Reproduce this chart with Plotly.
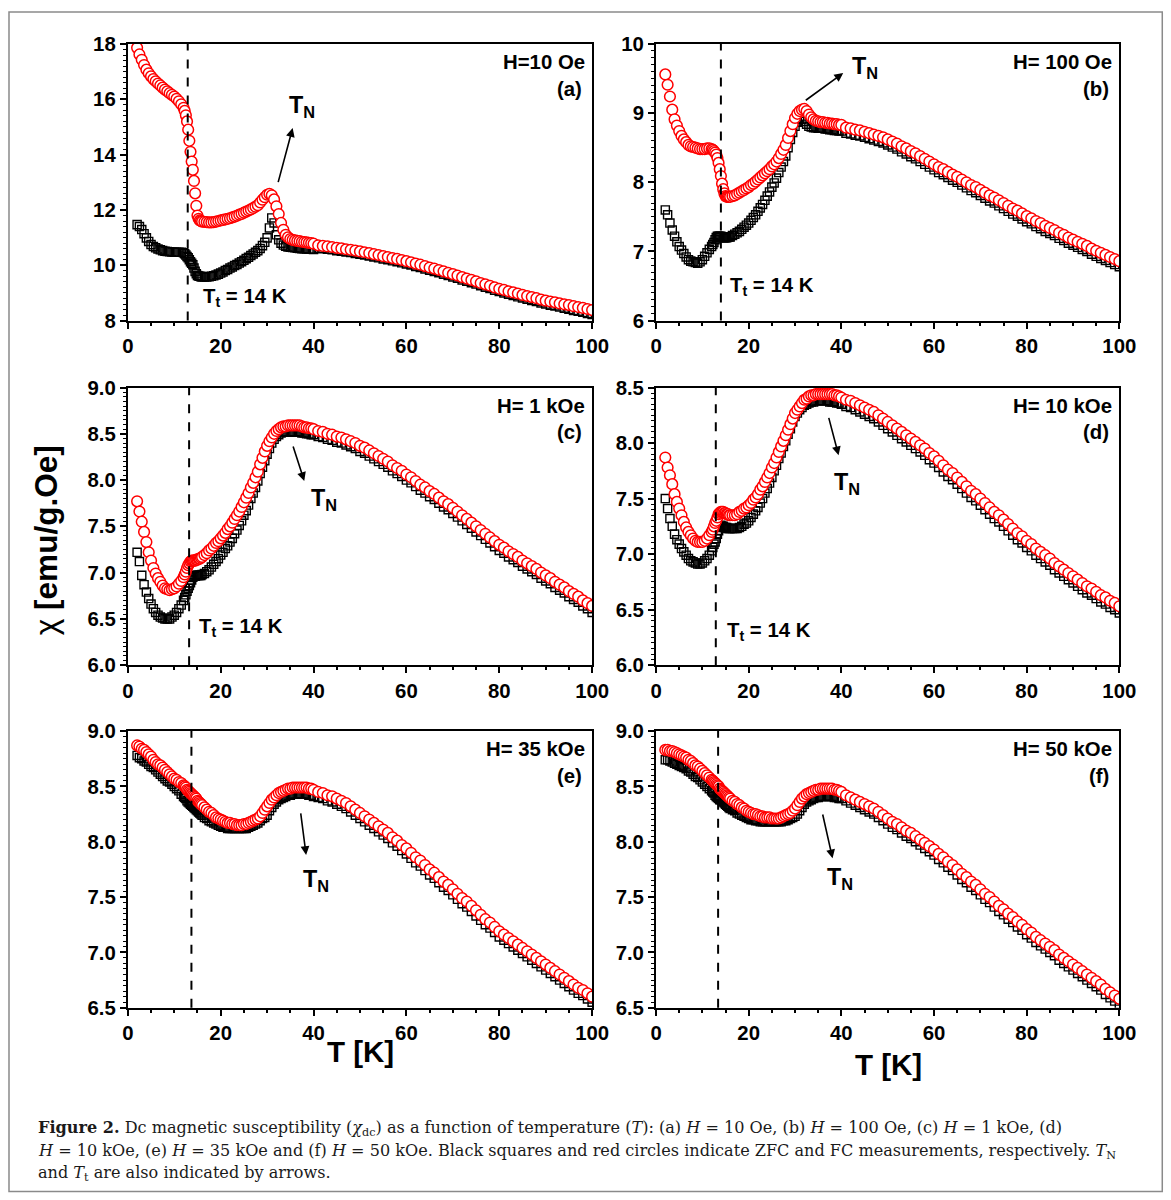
import plotly.graph_objects as go

# ---------------- data ----------------
T_LO = [2.0, 2.5, 3.0, 3.5, 4.0, 4.5, 5.0, 5.5, 6.0, 6.5, 7.0, 7.5, 8.0, 8.5, 9.0, 9.5, 10.0, 10.5, 11.0, 11.5,
        12.0, 12.25, 12.5, 12.75, 13.0, 13.25, 13.5, 13.75, 14.0, 14.25, 14.5, 14.75, 15.0, 15.25, 15.5, 15.75, 16.0,
        16.5, 17.0, 17.5, 18.0, 18.5, 19.0, 19.5, 20.0, 20.5, 21.0, 21.5, 22.0, 22.5, 23.0, 23.5, 24.0, 24.5, 25.0, 25.5, 26.0, 26.5, 27.0, 27.5, 28.0,
        28.5, 29.0, 29.5, 30.0, 30.5, 31.0, 31.5, 32.0, 32.5, 33.0, 33.5, 34.0, 34.5, 35.0, 35.5, 36.0, 36.5, 37.0, 37.5, 38.0, 38.5, 39.0, 39.5, 40.0]
T_HI = [41, 42, 43, 44, 45, 46, 47, 48, 49, 50, 51, 52, 53, 54, 55, 56, 57, 58, 59, 60,
        61, 62, 63, 64, 65, 66, 67, 68, 69, 70, 71, 72, 73, 74, 75, 76, 77, 78, 79, 80,
        81, 82, 83, 84, 85, 86, 87, 88, 89, 90, 91, 92, 93, 94, 95, 96, 97, 98, 99, 100]

# (a) H = 10 Oe
fc_lo_a = [17.86, 17.62, 17.43, 17.24, 17.07, 16.94, 16.83, 16.73, 16.65, 16.57, 16.50, 16.42, 16.35, 16.29, 16.22, 16.16, 16.10, 16.02, 15.93, 15.82,
           15.69, 15.58, 15.42, 15.20, 14.90, 14.50, 14.10, 13.75, 13.45, 13.05, 12.60, 12.15, 11.80, 11.68, 11.62, 11.60, 11.58,
           11.57, 11.56, 11.55, 11.55, 11.56, 11.58, 11.60, 11.62, 11.64, 11.66, 11.68, 11.70, 11.73, 11.76, 11.79, 11.83, 11.86, 11.90, 11.94, 11.98, 12.02, 12.07, 12.12, 12.17,
           12.27, 12.37, 12.46, 12.55, 12.58, 12.53, 12.38, 12.13, 11.85, 11.53, 11.28, 11.10, 11.01, 10.95, 10.92, 10.90, 10.88, 10.87, 10.85, 10.84, 10.83, 10.81, 10.80, 10.78]
fc_hi_a = [10.72, 10.70, 10.68, 10.66, 10.63, 10.61, 10.58, 10.56, 10.53, 10.50,
           10.47, 10.44, 10.40, 10.37, 10.33, 10.30, 10.26, 10.23, 10.19, 10.15,
           10.11, 10.06, 10.02, 9.97, 9.92, 9.88, 9.83, 9.78, 9.73, 9.68,
           9.63, 9.57, 9.52, 9.47, 9.42, 9.36, 9.31, 9.26, 9.20, 9.15,
           9.11, 9.06, 9.02, 8.98, 8.93, 8.89, 8.85, 8.81, 8.76, 8.72,
           8.69, 8.66, 8.62, 8.59, 8.56, 8.52, 8.49, 8.46, 8.42, 8.38]
zfc_lo_a = [11.47, 11.40, 11.29, 11.14, 10.99, 10.86, 10.75, 10.68, 10.63, 10.59, 10.56, 10.53, 10.51, 10.50, 10.49, 10.48, 10.47, 10.47, 10.47, 10.47,
            10.45, 10.42, 10.37, 10.32, 10.27, 10.20, 10.13, 10.07, 10.02, 9.90, 9.78, 9.69, 9.63, 9.61, 9.60, 9.59, 9.58,
            9.58, 9.58, 9.59, 9.60, 9.62, 9.65, 9.68, 9.72, 9.76, 9.81, 9.85, 9.90, 9.94, 9.99, 10.03, 10.08, 10.13, 10.18, 10.24, 10.29, 10.35, 10.41, 10.47, 10.53,
            10.61, 10.71, 10.83, 10.99, 11.35, 11.71, 11.53, 11.10, 10.92, 10.80, 10.73, 10.69, 10.66, 10.65, 10.64, 10.63, 10.62, 10.61, 10.60, 10.60, 10.59, 10.58, 10.58, 10.57]
zfc_hi_a = [10.62, 10.60, 10.58, 10.56, 10.53, 10.51, 10.48, 10.46, 10.43, 10.40,
            10.37, 10.34, 10.30, 10.27, 10.23, 10.20, 10.16, 10.13, 10.09, 10.05,
            10.01, 9.96, 9.92, 9.87, 9.82, 9.78, 9.73, 9.68, 9.63, 9.58,
            9.53, 9.47, 9.42, 9.37, 9.32, 9.26, 9.21, 9.16, 9.10, 9.05,
            9.00, 8.95, 8.91, 8.86, 8.82, 8.77, 8.73, 8.69, 8.64, 8.60,
            8.56, 8.53, 8.49, 8.45, 8.41, 8.37, 8.34, 8.30, 8.26, 8.22]

# (b) H = 100 Oe
fc_lo_b = [9.56, 9.41, 9.24, 9.05, 8.91, 8.82, 8.74, 8.67, 8.62, 8.58, 8.54, 8.52, 8.51, 8.50, 8.49, 8.48, 8.48, 8.48, 8.49, 8.49,
           8.48, 8.47, 8.45, 8.43, 8.40, 8.35, 8.28, 8.19, 8.09, 7.98, 7.90, 7.84, 7.80, 7.79, 7.79, 7.79, 7.79,
           7.80, 7.81, 7.83, 7.85, 7.87, 7.89, 7.91, 7.93, 7.96, 7.98, 8.01, 8.04, 8.07, 8.10, 8.13, 8.16, 8.19, 8.23, 8.26, 8.30, 8.35, 8.41, 8.47, 8.54,
           8.64, 8.74, 8.84, 8.93, 8.99, 9.03, 9.05, 9.06, 9.03, 8.98, 8.94, 8.91, 8.89, 8.88, 8.87, 8.87, 8.86, 8.86, 8.85, 8.85, 8.84, 8.84, 8.83, 8.83]
fc_hi_b = [8.79, 8.78, 8.76, 8.75, 8.73, 8.71, 8.69, 8.67, 8.65, 8.62,
           8.59, 8.56, 8.52, 8.49, 8.45, 8.42, 8.38, 8.34, 8.30, 8.26,
           8.22, 8.19, 8.15, 8.11, 8.08, 8.04, 8.00, 7.96, 7.93, 7.89,
           7.85, 7.81, 7.78, 7.74, 7.70, 7.66, 7.62, 7.59, 7.55, 7.51,
           7.48, 7.44, 7.41, 7.37, 7.34, 7.31, 7.27, 7.24, 7.20, 7.17,
           7.14, 7.11, 7.08, 7.04, 7.01, 6.98, 6.95, 6.92, 6.89, 6.86]
zfc_lo_b = [7.60, 7.53, 7.41, 7.31, 7.22, 7.14, 7.07, 7.02, 6.97, 6.92, 6.88, 6.86, 6.85, 6.84, 6.83, 6.85, 6.88, 6.93, 6.98, 7.03,
            7.07, 7.10, 7.13, 7.17, 7.20, 7.22, 7.22, 7.22, 7.22, 7.21, 7.20, 7.20, 7.20, 7.20, 7.21, 7.21, 7.21,
            7.23, 7.25, 7.27, 7.29, 7.32, 7.35, 7.38, 7.41, 7.45, 7.49, 7.53, 7.58, 7.63, 7.68, 7.74, 7.80, 7.86, 7.93, 7.99, 8.06, 8.14, 8.22, 8.30, 8.38,
            8.50, 8.62, 8.72, 8.81, 8.87, 8.92, 8.91, 8.88, 8.84, 8.81, 8.80, 8.79, 8.79, 8.78, 8.78, 8.78, 8.77, 8.77, 8.76, 8.76, 8.75, 8.75, 8.74, 8.74]
zfc_hi_b = [8.71, 8.70, 8.68, 8.67, 8.65, 8.63, 8.61, 8.59, 8.57, 8.54,
            8.51, 8.48, 8.44, 8.41, 8.37, 8.34, 8.30, 8.26, 8.22, 8.18,
            8.14, 8.11, 8.07, 8.03, 8.00, 7.96, 7.92, 7.88, 7.85, 7.81,
            7.77, 7.73, 7.70, 7.66, 7.62, 7.58, 7.54, 7.51, 7.47, 7.43,
            7.40, 7.36, 7.33, 7.29, 7.26, 7.23, 7.19, 7.16, 7.12, 7.09,
            7.06, 7.03, 7.00, 6.96, 6.93, 6.90, 6.87, 6.84, 6.81, 6.78]

# (c) H = 1 kOe
fc_lo_c = [7.77, 7.66, 7.55, 7.44, 7.33, 7.22, 7.13, 7.05, 6.99, 6.94, 6.90, 6.86, 6.83, 6.82, 6.81, 6.82, 6.83, 6.85, 6.88, 6.91,
           6.95, 6.98, 7.01, 7.05, 7.08, 7.10, 7.12, 7.13, 7.13, 7.13, 7.13, 7.14, 7.14, 7.15, 7.15, 7.16, 7.17,
           7.19, 7.21, 7.24, 7.26, 7.29, 7.32, 7.34, 7.37, 7.40, 7.43, 7.47, 7.50, 7.54, 7.58, 7.62, 7.66, 7.71, 7.76, 7.81, 7.86, 7.92, 7.97, 8.03, 8.09,
           8.17, 8.24, 8.31, 8.37, 8.42, 8.46, 8.50, 8.53, 8.55, 8.57, 8.58, 8.58, 8.59, 8.59, 8.59, 8.59, 8.59, 8.59, 8.58, 8.57, 8.57, 8.56, 8.56, 8.55]
fc_hi_c = [8.53, 8.52, 8.50, 8.49, 8.47, 8.46, 8.44, 8.42, 8.40, 8.37,
           8.35, 8.32, 8.29, 8.26, 8.23, 8.20, 8.16, 8.13, 8.10, 8.06,
           8.03, 7.99, 7.95, 7.92, 7.88, 7.85, 7.81, 7.77, 7.74, 7.70,
           7.66, 7.62, 7.58, 7.54, 7.50, 7.46, 7.42, 7.38, 7.34, 7.30,
           7.27, 7.23, 7.20, 7.17, 7.13, 7.10, 7.07, 7.04, 7.00, 6.97,
           6.94, 6.90, 6.87, 6.84, 6.80, 6.77, 6.74, 6.70, 6.67, 6.64]
zfc_lo_c = [7.22, 7.12, 6.97, 6.87, 6.79, 6.72, 6.66, 6.61, 6.57, 6.54, 6.52, 6.51, 6.50, 6.50, 6.50, 6.52, 6.54, 6.57, 6.61, 6.65,
            6.70, 6.73, 6.76, 6.80, 6.83, 6.86, 6.89, 6.92, 6.95, 6.96, 6.96, 6.97, 6.97, 6.97, 6.97, 6.97, 6.98,
            6.99, 7.01, 7.03, 7.06, 7.09, 7.12, 7.15, 7.19, 7.22, 7.26, 7.29, 7.33, 7.37, 7.42, 7.46, 7.51, 7.56, 7.62, 7.67, 7.73, 7.80, 7.86, 7.92, 7.99,
            8.07, 8.14, 8.21, 8.28, 8.34, 8.40, 8.44, 8.47, 8.49, 8.51, 8.52, 8.52, 8.52, 8.52, 8.52, 8.52, 8.52, 8.52, 8.51, 8.51, 8.50, 8.50, 8.49, 8.49]
zfc_hi_c = [8.47, 8.46, 8.44, 8.43, 8.41, 8.40, 8.38, 8.36, 8.34, 8.31,
            8.29, 8.26, 8.23, 8.20, 8.17, 8.14, 8.10, 8.07, 8.04, 8.00,
            7.97, 7.93, 7.89, 7.86, 7.82, 7.79, 7.75, 7.71, 7.68, 7.64,
            7.60, 7.56, 7.52, 7.48, 7.44, 7.40, 7.36, 7.32, 7.28, 7.24,
            7.21, 7.17, 7.14, 7.11, 7.07, 7.04, 7.01, 6.98, 6.94, 6.91,
            6.88, 6.84, 6.81, 6.78, 6.74, 6.71, 6.68, 6.64, 6.61, 6.57]

# (d) H = 10 kOe
fc_lo_d = [7.87, 7.78, 7.71, 7.63, 7.54, 7.47, 7.41, 7.35, 7.29, 7.24, 7.20, 7.17, 7.14, 7.12, 7.11, 7.11, 7.11, 7.12, 7.14, 7.17,
           7.20, 7.22, 7.25, 7.28, 7.30, 7.33, 7.36, 7.37, 7.38, 7.38, 7.38, 7.37, 7.37, 7.36, 7.36, 7.35, 7.35,
           7.35, 7.35, 7.36, 7.38, 7.39, 7.41, 7.42, 7.44, 7.46, 7.49, 7.51, 7.54, 7.58, 7.61, 7.65, 7.69, 7.73, 7.78, 7.82, 7.87, 7.92, 7.97, 8.02, 8.07,
           8.12, 8.17, 8.22, 8.27, 8.30, 8.33, 8.36, 8.39, 8.40, 8.42, 8.43, 8.43, 8.44, 8.44, 8.44, 8.44, 8.44, 8.44, 8.44, 8.44, 8.43, 8.43, 8.42, 8.41]
fc_hi_d = [8.39, 8.38, 8.36, 8.34, 8.32, 8.30, 8.28, 8.25, 8.22, 8.19,
           8.16, 8.13, 8.10, 8.07, 8.04, 8.01, 7.98, 7.95, 7.91, 7.88,
           7.84, 7.80, 7.76, 7.73, 7.69, 7.65, 7.61, 7.57, 7.54, 7.50,
           7.46, 7.42, 7.38, 7.35, 7.31, 7.27, 7.23, 7.19, 7.16, 7.12,
           7.09, 7.05, 7.02, 6.99, 6.96, 6.92, 6.89, 6.86, 6.83, 6.80,
           6.77, 6.74, 6.71, 6.69, 6.66, 6.63, 6.61, 6.58, 6.56, 6.53]
zfc_lo_d = [7.50, 7.41, 7.32, 7.25, 7.18, 7.13, 7.09, 7.05, 7.02, 6.99, 6.96, 6.94, 6.93, 6.92, 6.91, 6.91, 6.92, 6.94, 6.96, 6.99,
            7.03, 7.06, 7.09, 7.11, 7.14, 7.18, 7.21, 7.24, 7.26, 7.25, 7.25, 7.24, 7.24, 7.24, 7.23, 7.23, 7.23,
            7.23, 7.23, 7.23, 7.24, 7.25, 7.27, 7.28, 7.30, 7.33, 7.36, 7.39, 7.42, 7.46, 7.50, 7.55, 7.59, 7.64, 7.69, 7.75, 7.80, 7.86, 7.91, 7.97, 8.02,
            8.08, 8.13, 8.19, 8.24, 8.27, 8.30, 8.32, 8.34, 8.35, 8.36, 8.37, 8.37, 8.38, 8.38, 8.38, 8.38, 8.38, 8.38, 8.37, 8.37, 8.37, 8.36, 8.36, 8.35]
zfc_hi_d = [8.33, 8.32, 8.30, 8.28, 8.26, 8.24, 8.22, 8.19, 8.16, 8.13,
            8.10, 8.07, 8.04, 8.01, 7.98, 7.95, 7.92, 7.89, 7.85, 7.82,
            7.78, 7.74, 7.70, 7.67, 7.63, 7.59, 7.55, 7.51, 7.48, 7.44,
            7.40, 7.36, 7.32, 7.29, 7.25, 7.21, 7.17, 7.13, 7.10, 7.06,
            7.03, 6.99, 6.96, 6.93, 6.90, 6.86, 6.83, 6.80, 6.77, 6.74,
            6.71, 6.68, 6.65, 6.63, 6.60, 6.57, 6.55, 6.52, 6.50, 6.47]

# (e) H = 35 kOe
fc_lo_e = [8.87, 8.86, 8.84, 8.83, 8.81, 8.79, 8.77, 8.74, 8.72, 8.70, 8.69, 8.67, 8.65, 8.63, 8.61, 8.59, 8.57, 8.56, 8.54, 8.53,
           8.51, 8.50, 8.49, 8.47, 8.46, 8.45, 8.44, 8.43, 8.42, 8.41, 8.40, 8.39, 8.37, 8.36, 8.35, 8.34, 8.33,
           8.31, 8.29, 8.27, 8.26, 8.24, 8.22, 8.21, 8.20, 8.19, 8.18, 8.17, 8.17, 8.16, 8.16, 8.15, 8.15, 8.15, 8.16, 8.16, 8.17, 8.18, 8.19, 8.20, 8.21,
           8.23, 8.26, 8.29, 8.32, 8.35, 8.38, 8.40, 8.42, 8.44, 8.45, 8.46, 8.47, 8.48, 8.48, 8.49, 8.49, 8.49, 8.49, 8.49, 8.49, 8.49, 8.48, 8.48, 8.47]
fc_hi_e = [8.45, 8.44, 8.42, 8.41, 8.39, 8.37, 8.35, 8.32, 8.29, 8.26,
           8.23, 8.20, 8.17, 8.14, 8.11, 8.08, 8.04, 8.01, 7.97, 7.94,
           7.90, 7.86, 7.83, 7.79, 7.75, 7.72, 7.68, 7.64, 7.61, 7.57,
           7.53, 7.49, 7.46, 7.42, 7.38, 7.34, 7.30, 7.27, 7.23, 7.19,
           7.16, 7.13, 7.10, 7.07, 7.04, 7.01, 6.98, 6.95, 6.92, 6.89,
           6.86, 6.83, 6.80, 6.77, 6.74, 6.71, 6.68, 6.66, 6.63, 6.60]
zfc_lo_e = [8.78, 8.76, 8.75, 8.73, 8.72, 8.70, 8.68, 8.67, 8.65, 8.63, 8.61, 8.59, 8.57, 8.55, 8.54, 8.52, 8.50, 8.48, 8.46, 8.43,
            8.41, 8.40, 8.39, 8.37, 8.36, 8.35, 8.34, 8.33, 8.32, 8.31, 8.30, 8.29, 8.28, 8.27, 8.26, 8.25, 8.24,
            8.22, 8.21, 8.19, 8.18, 8.17, 8.16, 8.15, 8.14, 8.13, 8.13, 8.12, 8.12, 8.12, 8.12, 8.12, 8.12, 8.12, 8.12, 8.12, 8.13, 8.14, 8.15, 8.16, 8.17,
            8.19, 8.21, 8.22, 8.24, 8.28, 8.31, 8.34, 8.36, 8.38, 8.39, 8.40, 8.41, 8.42, 8.42, 8.43, 8.43, 8.43, 8.43, 8.43, 8.43, 8.43, 8.42, 8.42, 8.41]
zfc_hi_e = [8.40, 8.39, 8.37, 8.36, 8.34, 8.32, 8.30, 8.27, 8.24, 8.21,
            8.18, 8.15, 8.12, 8.09, 8.06, 8.03, 7.99, 7.96, 7.92, 7.89,
            7.85, 7.81, 7.78, 7.74, 7.70, 7.67, 7.63, 7.59, 7.56, 7.52,
            7.48, 7.44, 7.41, 7.37, 7.33, 7.29, 7.25, 7.22, 7.18, 7.14,
            7.11, 7.08, 7.05, 7.02, 6.99, 6.96, 6.93, 6.90, 6.87, 6.84,
            6.81, 6.78, 6.75, 6.72, 6.69, 6.66, 6.63, 6.61, 6.58, 6.55]

# (f) H = 50 kOe
fc_lo_f = [8.83, 8.83, 8.82, 8.82, 8.81, 8.80, 8.79, 8.78, 8.77, 8.76, 8.74, 8.73, 8.71, 8.69, 8.68, 8.66, 8.64, 8.62, 8.60, 8.58,
           8.56, 8.55, 8.54, 8.53, 8.52, 8.51, 8.50, 8.48, 8.47, 8.46, 8.45, 8.44, 8.43, 8.42, 8.41, 8.40, 8.39,
           8.37, 8.36, 8.34, 8.33, 8.31, 8.30, 8.28, 8.27, 8.26, 8.25, 8.25, 8.24, 8.23, 8.23, 8.22, 8.22, 8.22, 8.21, 8.21, 8.21, 8.21, 8.22, 8.23, 8.24,
           8.25, 8.26, 8.28, 8.30, 8.33, 8.36, 8.39, 8.41, 8.43, 8.44, 8.45, 8.46, 8.47, 8.47, 8.48, 8.48, 8.48, 8.48, 8.48, 8.48, 8.47, 8.47, 8.46, 8.45]
fc_hi_f = [8.42, 8.40, 8.38, 8.36, 8.34, 8.32, 8.30, 8.27, 8.24, 8.21,
           8.18, 8.16, 8.13, 8.10, 8.08, 8.05, 8.02, 7.99, 7.96, 7.93,
           7.89, 7.86, 7.82, 7.79, 7.75, 7.71, 7.68, 7.64, 7.61, 7.57,
           7.53, 7.50, 7.46, 7.42, 7.39, 7.35, 7.32, 7.28, 7.25, 7.21,
           7.18, 7.14, 7.11, 7.08, 7.05, 7.02, 6.98, 6.95, 6.92, 6.89,
           6.86, 6.83, 6.80, 6.77, 6.74, 6.71, 6.67, 6.64, 6.61, 6.58]
zfc_lo_f = [8.74, 8.74, 8.73, 8.72, 8.71, 8.70, 8.69, 8.68, 8.67, 8.66, 8.64, 8.63, 8.61, 8.59, 8.58, 8.56, 8.54, 8.52, 8.50, 8.48,
            8.46, 8.45, 8.44, 8.42, 8.41, 8.40, 8.39, 8.38, 8.38, 8.37, 8.36, 8.35, 8.34, 8.33, 8.32, 8.31, 8.30,
            8.29, 8.28, 8.26, 8.25, 8.24, 8.23, 8.22, 8.21, 8.20, 8.20, 8.19, 8.19, 8.18, 8.18, 8.18, 8.18, 8.18, 8.18, 8.18, 8.18, 8.18, 8.18, 8.19, 8.19,
            8.20, 8.21, 8.22, 8.23, 8.25, 8.28, 8.31, 8.34, 8.36, 8.37, 8.38, 8.39, 8.40, 8.40, 8.41, 8.41, 8.41, 8.41, 8.41, 8.41, 8.40, 8.40, 8.39, 8.39]
zfc_hi_f = [8.37, 8.35, 8.33, 8.31, 8.29, 8.27, 8.25, 8.22, 8.19, 8.16,
            8.13, 8.11, 8.08, 8.05, 8.03, 8.00, 7.97, 7.94, 7.91, 7.88,
            7.84, 7.81, 7.77, 7.74, 7.70, 7.66, 7.63, 7.59, 7.56, 7.52,
            7.48, 7.45, 7.41, 7.37, 7.34, 7.30, 7.27, 7.23, 7.20, 7.16,
            7.13, 7.09, 7.06, 7.03, 7.00, 6.97, 6.93, 6.90, 6.87, 6.84,
            6.81, 6.78, 6.75, 6.72, 6.69, 6.66, 6.62, 6.59, 6.56, 6.53]

FIELD_LABELS = ["H=10 Oe", "H= 100 Oe", "H= 1 kOe", "H= 10 kOe", "H= 35 kOe", "H= 50 kOe"]
PANEL_LETTERS = ["(a)", "(b)", "(c)", "(d)", "(e)", "(f)"]
Y_RANGES = [(8, 18, 2), (6, 10, 1), (6.0, 9.0, 0.5), (6.0, 8.5, 0.5), (6.5, 9.0, 0.5), (6.5, 9.0, 0.5)]
T_TRANSITION_LINE = [12.9, 14.0, 13.2, 12.9, 13.7, 13.4]
# T_N arrow: (tail T, tail chi, head T, head chi), T_N label (T, chi)
TN_ARROWS = [(32.3, 12.95, 35.5, 14.96), (32.0, 9.17, 40.4, 9.58), (35.5, 8.38, 38.0, 7.99),
             (37.2, 8.24, 39.4, 7.89), (37.2, 8.27, 38.4, 7.88), (35.9, 8.26, 38.1, 7.85)]
TN_LABELS = [(37.6, 15.75), (45.0, 9.66), (42.2, 7.79), (41.2, 7.64), (40.6, 7.65), (39.8, 7.67)]
TT_LABELS = [(15.8, 8.85), (15.5, 6.49), (14.8, 6.41), (14.8, 6.30), None, None]

panels = [
    (fc_lo_a, fc_hi_a, zfc_lo_a, zfc_hi_a),
    (fc_lo_b, fc_hi_b, zfc_lo_b, zfc_hi_b),
    (fc_lo_c, fc_hi_c, zfc_lo_c, zfc_hi_c),
    (fc_lo_d, fc_hi_d, zfc_lo_d, zfc_hi_d),
    (fc_lo_e, fc_hi_e, zfc_lo_e, zfc_hi_e),
    (fc_lo_f, fc_hi_f, zfc_lo_f, zfc_hi_f),
]
for i, p in enumerate(panels):
    for k, arr in enumerate(p):
        want = len(T_LO) if k % 2 == 0 else len(T_HI)
        assert len(arr) == want, (i, k, len(arr), want)

# ---------------- layout geometry ----------------
# positions below are target picture pixels; the captured page maps as
# picture = (5, 10) + 0.982 * page, so convert back to page pixels here.
SX, SY, OX, OY = 0.982, 0.983, 5.0, 10.0
W, H = 1182, 1205
K = 1 / SX  # size scale


def px(x):
    return ((x - OX) / SX) / W


def py(y):
    return 1 - ((y - OY) / SY) / H


XDOM = [[px(127), px(592)], [px(656), px(1120)]]
YDOM = [[py(320), py(43)], [py(665), py(387)], [py(1008), py(731)]]

fig = go.Figure()
TICKFONT = dict(family="Liberation Sans", size=20 * K, color="black", weight="bold")
annotations = []
shapes = []
T_ALL = T_LO + T_HI

for i, (fc_lo, fc_hi, zfc_lo, zfc_hi) in enumerate(panels):
    n = i + 1
    xa = "x" if n == 1 else f"x{n}"
    ya = "y" if n == 1 else f"y{n}"
    row, col = i // 2, i % 2
    fig.add_trace(go.Scatter(
        x=T_ALL, y=zfc_lo + zfc_hi, mode="markers", xaxis=xa, yaxis=ya,
        marker=dict(symbol="square-open", size=8 * K, color="black", line=dict(width=1.4, color="black")),
        showlegend=False, hoverinfo="skip"))
    fig.add_trace(go.Scatter(
        x=T_ALL, y=fc_lo + fc_hi, mode="markers", xaxis=xa, yaxis=ya,
        marker=dict(symbol="circle", size=10.5 * K, color="white", line=dict(width=1.5, color="#ff0000")),
        showlegend=False, hoverinfo="skip"))

    y0, y1, dt = Y_RANGES[i]
    fmt = "d" if dt >= 1 else ".1f"
    xkey = "xaxis" if n == 1 else f"xaxis{n}"
    ykey = "yaxis" if n == 1 else f"yaxis{n}"
    fig.update_layout(**{
        xkey: dict(domain=XDOM[col], anchor=ya, range=[0, 100], dtick=20, tick0=0,
                   showline=True, mirror=True, linecolor="black", linewidth=2,
                   ticks="outside", ticklen=6, tickwidth=2, tickcolor="black",
                   minor=dict(dtick=5, ticks="outside", ticklen=3, tickwidth=1.5, tickcolor="black"),
                   showgrid=False, zeroline=False, tickfont=TICKFONT),
        ykey: dict(domain=YDOM[row], anchor=xa, range=[y0, y1], dtick=dt, tick0=y0, tickformat=fmt,
                   showline=True, mirror=True, linecolor="black", linewidth=2,
                   ticks="outside", ticklen=6, tickwidth=2, tickcolor="black",
                   minor=dict(dtick=dt / 10, ticks="outside", ticklen=3, tickwidth=1.2, tickcolor="black"),
                   showgrid=False, zeroline=False, tickfont=TICKFONT),
    })

    # transition dashed line
    shapes.append(dict(type="line", xref=xa, yref=f"{ya} domain", x0=T_TRANSITION_LINE[i],
                       x1=T_TRANSITION_LINE[i], y0=0, y1=1,
                       line=dict(color="black", width=2, dash="dash")))

    # field label and panel letter
    annotations.append(dict(text=f"<b>{FIELD_LABELS[i]}</b>", xref=f"{xa} domain", yref=f"{ya} domain",
                            x=0.988, y=0.935, xanchor="right", yanchor="middle", showarrow=False,
                            font=dict(family="Liberation Sans", size=20 * K, color="black")))
    annotations.append(dict(text=f"<b>{PANEL_LETTERS[i]}</b>", xref=f"{xa} domain", yref=f"{ya} domain",
                            x=0.982, y=0.838, xanchor="right", yanchor="middle", showarrow=False,
                            font=dict(family="Liberation Sans", size=20 * K, color="black")))

    # T_N arrow
    tx, ty, hx, hy = TN_ARROWS[i]
    annotations.append(dict(x=hx, y=hy, ax=tx, ay=ty, xref=xa, yref=ya, axref=xa, ayref=ya,
                            text="", showarrow=True, arrowhead=2, arrowsize=1.1, arrowwidth=1.6,
                            arrowcolor="black"))
    lx, ly = TN_LABELS[i]
    annotations.append(dict(x=lx, y=ly, xref=xa, yref=ya, text="<b>T<sub>N</sub></b>", showarrow=False,
                            xanchor="center", yanchor="middle",
                            font=dict(family="Liberation Sans", size=23 * K, color="black")))
    if TT_LABELS[i] is not None:
        qx, qy = TT_LABELS[i]
        annotations.append(dict(x=qx, y=qy, xref=xa, yref=ya, text="<b>T<sub>t</sub> = 14 K</b>",
                                showarrow=False, xanchor="left", yanchor="middle",
                                font=dict(family="Liberation Sans", size=20 * K, color="black")))

# axis titles
annotations.append(dict(text="χ <b>[emu/g.Oe]</b>", xref="paper", yref="paper", x=px(45), y=py(540),
                        textangle=-90, showarrow=False, xanchor="center", yanchor="middle",
                        font=dict(family="Liberation Sans", size=31 * K, color="black")))
annotations.append(dict(text="<b>T [K]</b>", xref="paper", yref="paper", x=px(360), y=py(1052),
                        showarrow=False, xanchor="center", yanchor="middle",
                        font=dict(family="Liberation Sans", size=29 * K, color="black")))
annotations.append(dict(text="<b>T [K]</b>", xref="paper", yref="paper", x=px(889), y=py(1065),
                        showarrow=False, xanchor="center", yanchor="middle",
                        font=dict(family="Liberation Sans", size=29 * K, color="black")))

# caption
CAPTION = [
    "<b>Figure 2.</b> Dc magnetic susceptibility (<i>χ</i><sub>dc</sub>) as a function of temperature (<i>T</i>): "
    "(a) <i>H</i> = 10 Oe, (b) <i>H</i> = 100 Oe, (c) <i>H</i> = 1 kOe, (d)",
    "<i>H</i> = 10 kOe, (e) <i>H</i> = 35 kOe and (f) <i>H</i> = 50 kOe. Black squares and red circles indicate "
    "ZFC and FC measurements, respectively. <i>T</i><sub>N</sub>",
    "and <i>T</i><sub>t</sub> are also indicated by arrows.",
]
for k, line in enumerate(CAPTION):
    annotations.append(dict(text=line, xref="paper", yref="paper", x=px(35), y=py(1129.2 + 22.3 * k),
                            showarrow=False, xanchor="left", yanchor="middle",
                            font=dict(family="DejaVu Serif", size=15.8 * K, color="#1a1a1a")))

# outer frame
shapes.append(dict(type="rect", xref="paper", yref="paper", x0=px(8), x1=px(1163), y0=py(1192),
                   y1=1 - 1.0 / H, line=dict(color="#8a8a8a", width=1.5)))

fig.update_layout(width=W, height=H, margin=dict(l=0, r=0, t=0, b=0),
                  paper_bgcolor="white", plot_bgcolor="white",
                  annotations=annotations, shapes=shapes, showlegend=False)

fig.write_html("out.html")
